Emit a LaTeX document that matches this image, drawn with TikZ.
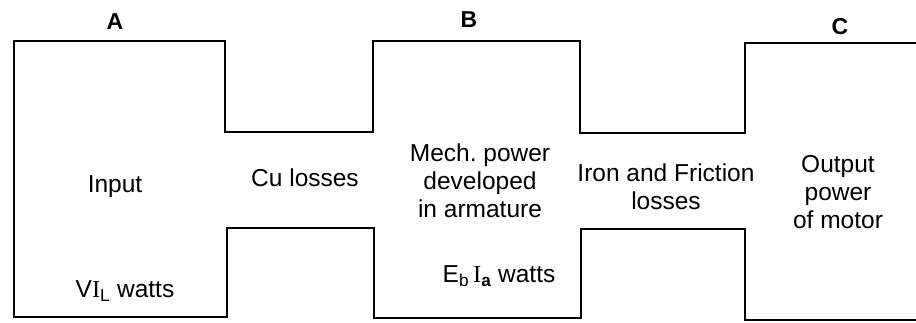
\documentclass[tikz,border=0pt]{standalone}
\usepackage{fontspec}
\setmainfont{Liberation Sans}
\newfontfamily\serfont{Liberation Serif}
\begin{document}
\begin{tikzpicture}[x=1pt,y=-1pt,
  outline/.style={line width=2.8pt,line join=miter,line cap=rect},
  lbl/.style={inner sep=0pt,align=center,font=\fontsize{24.5}{28}\selectfont},
  letter/.style={inner sep=0pt,font=\fontsize{23}{26}\selectfont\bfseries}]
\useasboundingbox (0,0) rectangle (916,322);
% outline
\draw[outline] (916,43) -- (745,43) -- (745,133) -- (580,133) -- (580,41) -- (373,41) -- (373,132) -- (225,132) -- (225,41) -- (14,41) -- (14,317) -- (227,317) -- (227,228) -- (374,228) -- (374,318) -- (581,318) -- (581,229) -- (745,229) -- (745,320) -- (916,320);
% letters
\node[letter] (A) at (115,22) {A};
\node[letter] (B) at (469,20) {B};
\node[letter] (C) at (840,27) {C};
% labels
\node[lbl] (input) at (115,187) {Input};
\node[lbl] (cu) at (305,178) {Cu losses};
\node[lbl] (mech) at (480,181) {Mech.\ power\\developed\\in armature};
\node[lbl] (iron) at (666,187) {Iron and Friction\\losses};
\node[lbl] (output) at (838,192) {Output\\power\\of motor};
\node[lbl] (vil) at (125,291) {V{\serfont I}$_{\mathrm{L}}$ watts};
\node[lbl] (ebia) at (499,276) {E$_{\mathrm{b}}$\,{\serfont I}$_{\mathbf{a}}$ watts};
\end{tikzpicture}
\end{document}
